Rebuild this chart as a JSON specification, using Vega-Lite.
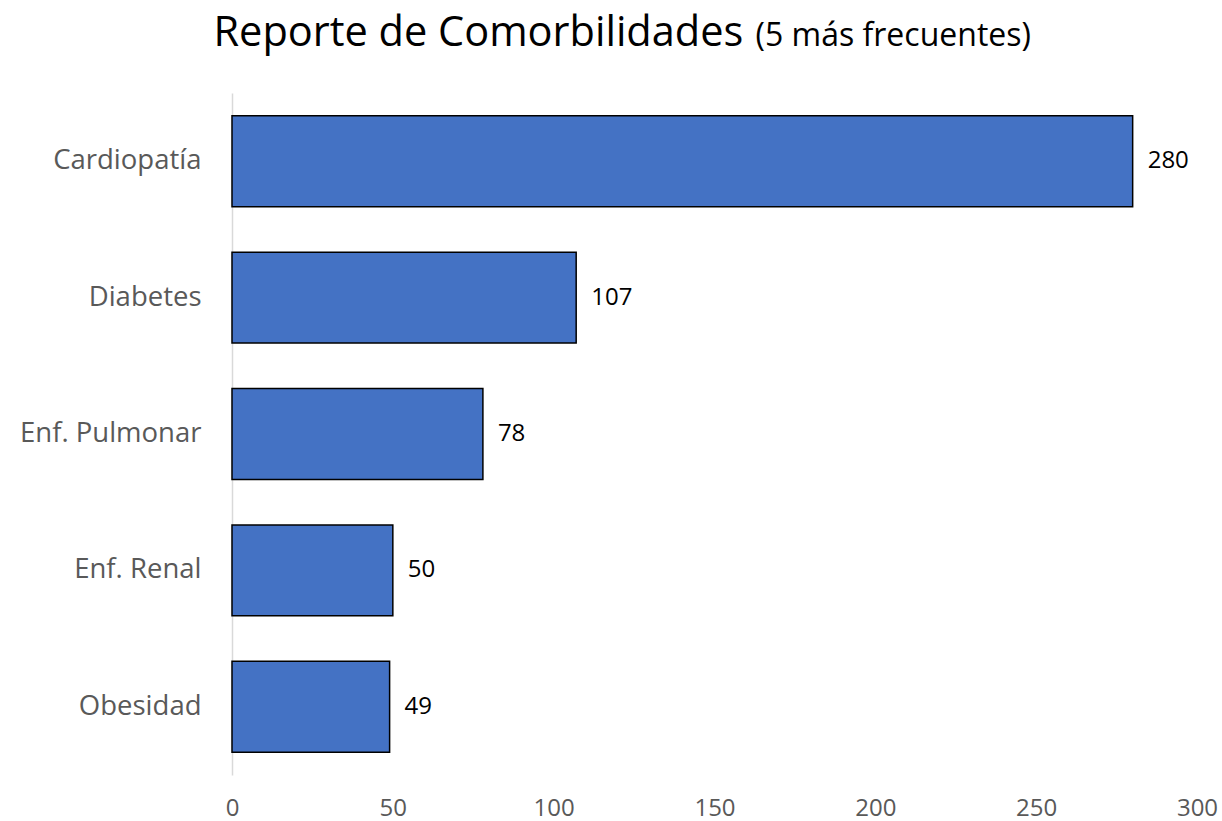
{
  "$schema": "https://vega.github.io/schema/vega-lite/v6.json",
  "width": 965,
  "height": 682,
  "autosize": "none",
  "padding": {"left": 232, "top": 93, "right": 25, "bottom": 46},
  "background": "white",
  "data": {
    "values": [
      {"comorbilidad": "Cardiopatía", "casos": 280},
      {"comorbilidad": "Diabetes", "casos": 107},
      {"comorbilidad": "Enf. Pulmonar", "casos": 78},
      {"comorbilidad": "Enf. Renal", "casos": 50},
      {"comorbilidad": "Obesidad", "casos": 49}
    ]
  },
  "encoding": {
    "y": {
      "field": "comorbilidad",
      "type": "nominal",
      "sort": null,
      "scale": {"paddingInner": 0.333, "paddingOuter": 0.167},
      "axis": {
        "title": "Reporte de Comorbilidades",
        "titleAngle": 0,
        "titleX": -19,
        "titleY": -48,
        "titleAlign": "left",
        "titleBaseline": "alphabetic",
        "titleFont": "Open Sans",
        "titleFontSize": 41.5,
        "titleFontWeight": "normal",
        "titleColor": "black",
        "ticks": false,
        "domainColor": "#d9d9d9",
        "domainWidth": 1.5,
        "labelFont": "Open Sans",
        "labelFontSize": 27.5,
        "labelColor": "#595959",
        "labelPadding": 31,
        "labelLimit": 400
      }
    },
    "x": {
      "field": "casos",
      "type": "quantitative",
      "scale": {"domain": [0, 300]},
      "axis": {
        "title": "(5 más frecuentes)",
        "titleX": 523,
        "titleY": -730,
        "titleAlign": "left",
        "titleAnchor": null,
        "titleBaseline": "alphabetic",
        "titleFont": "Open Sans",
        "titleFontSize": 32,
        "titleFontWeight": "normal",
        "titleColor": "black",
        "values": [0, 50, 100, 150, 200, 250, 300],
        "grid": false,
        "ticks": false,
        "domain": false,
        "labelFont": "Open Sans",
        "labelFontSize": 24,
        "labelColor": "#595959",
        "labelPadding": 21,
        "labelFlush": false
      }
    }
  },
  "layer": [
    {
      "mark": {"type": "bar", "color": "#4472C4", "stroke": "black", "strokeWidth": 1.5}
    },
    {
      "mark": {"type": "text", "align": "left", "baseline": "middle", "dx": 15, "font": "Open Sans", "fontSize": 24, "color": "black"},
      "encoding": {"text": {"field": "casos", "type": "quantitative"}}
    }
  ],
  "config": {"view": {"stroke": null}}
}
